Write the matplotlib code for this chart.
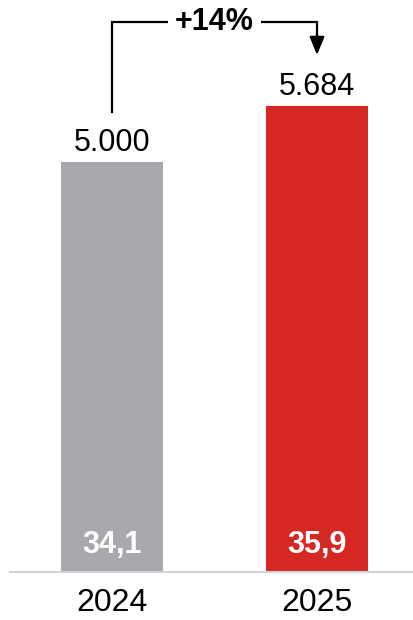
import matplotlib
matplotlib.use("Agg")
import matplotlib.pyplot as plt

# chart data
years = ["2024", "2025"]
values = [5000, 5684]
inner_labels = ["34,1", "35,9"]
value_labels = ["5.000", "5.684"]
change_label = "+14%"

bar_colors = ["#A7A9AC", "#D52823"]

plt.rcParams["font.family"] = ["Liberation Sans", "DejaVu Sans"]

fig = plt.figure(figsize=(4.13, 6.2), dpi=100)
ax = fig.add_axes([0, 48 / 620, 1, 572 / 620])

x = list(range(len(years)))
bars = ax.bar(x, values, width=0.5, color=bar_colors, zorder=2)

ax.set_xlim(-0.546, 1.468)
ax.set_ylim(0, 6975)
ax.axis("off")

# baseline
ax.axhline(0, xmin=10 / 413, xmax=1, color="#D3D3D8", lw=1.5, zorder=3,
           clip_on=False)

for xi, v, vl, il, yr in zip(x, values, value_labels, inner_labels, years):
    ax.annotate(vl, (xi, v), xytext=(0, 4), textcoords="offset pixels",
                ha="center", va="bottom", fontsize=22)
    ax.annotate(il, (xi, 0), xytext=(0, 27), textcoords="offset pixels",
                ha="center", va="center", fontsize=22, fontweight="bold",
                color="white", zorder=4)
    ax.annotate(yr, (xi, 0), xytext=(0, -31), textcoords="offset pixels",
                ha="center", va="center", fontsize=23, annotation_clip=False)

# bracket with arrow showing the change
top = max(values) + 1020
start_y = values[0] + 610
end_y = values[1] + 620
ax.plot([x[0], x[0], x[1], x[1]], [start_y, top, top, end_y + 120],
        color="black", lw=1.6, solid_joinstyle="miter", zorder=3)
ax.annotate("", xy=(x[1], end_y), xytext=(x[1], end_y + 260),
            arrowprops=dict(arrowstyle="-|>,head_length=1.1,head_width=0.45",
                            color="black", lw=1.6, shrinkA=0, shrinkB=0))
ax.text((x[0] + x[1]) / 2, top, change_label, ha="center", va="center",
        fontsize=22, fontweight="bold", zorder=4,
        bbox=dict(facecolor="white", edgecolor="none", pad=5))

fig.savefig("out.png", dpi=100)
